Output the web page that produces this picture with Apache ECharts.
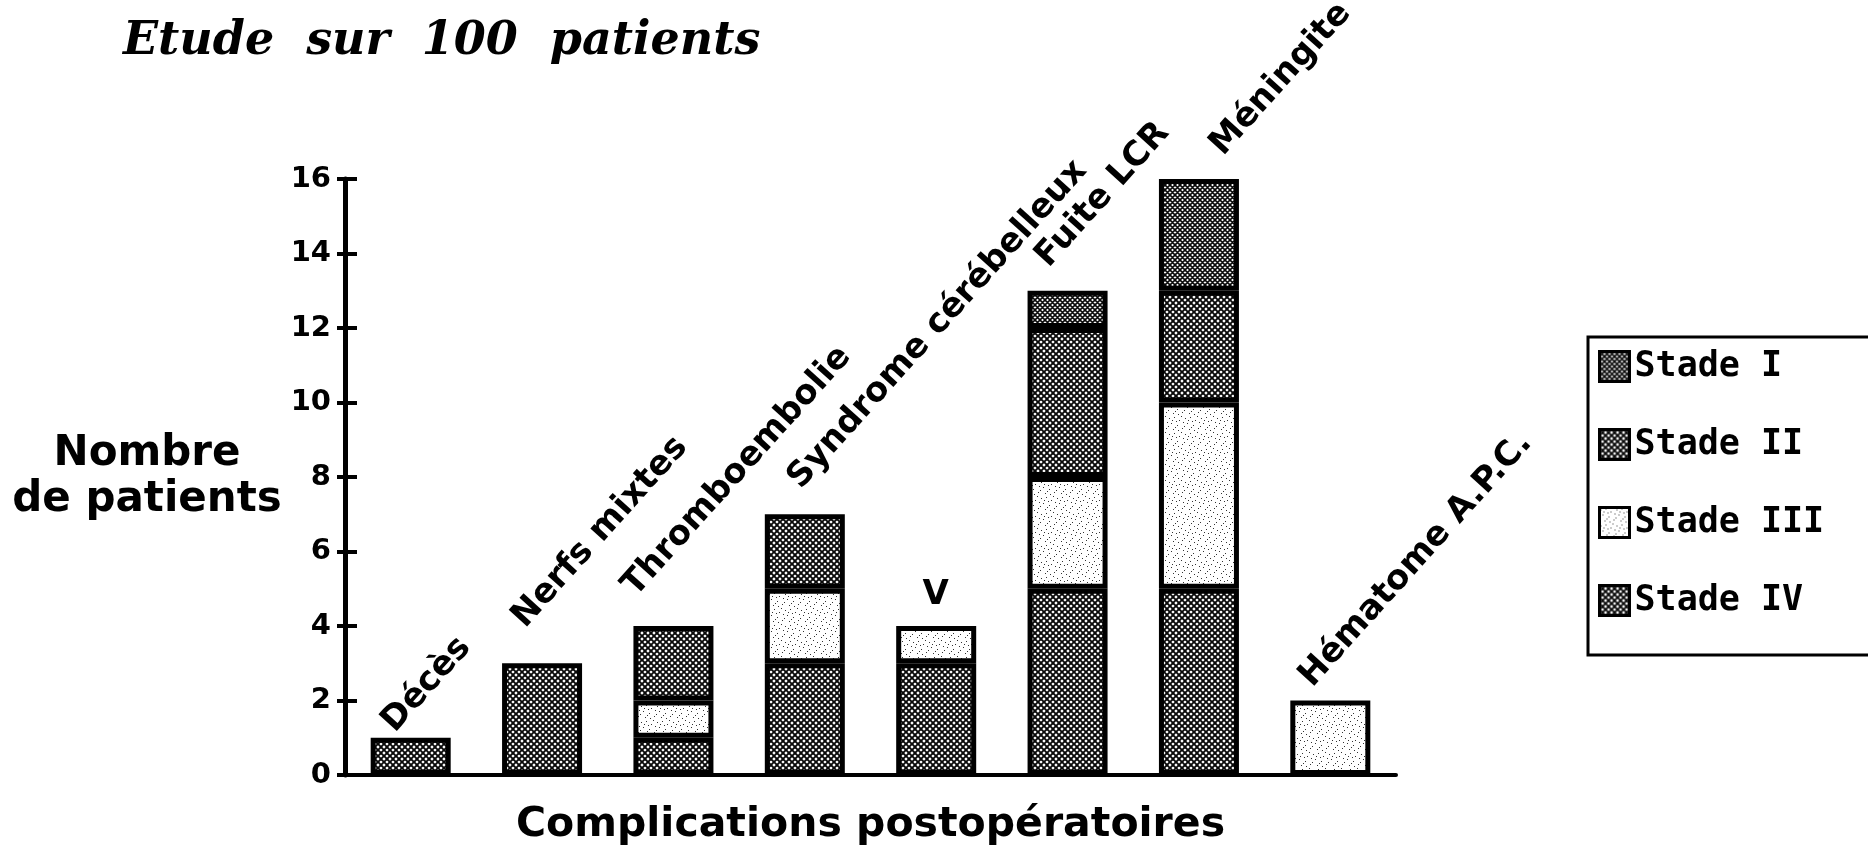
<!DOCTYPE html>
<html>
<head>
<meta charset="utf-8">
<script src="https://cdn.jsdelivr.net/npm/echarts@6/dist/echarts.min.js"></script>
<style>
  html, body { margin: 0; padding: 0; background: #fff; }
  #chart { width: 1868px; height: 853px; }
</style>
</head>
<body>
<div id="chart"></div>
<script>
// Complications after surgery, split by stage (stacked bottom to top: IV, III, II, I)
const categories = ['Décès', 'Nerfs mixtes', 'Thromboembolie', 'Syndrome cérébelleux',
                    'V', 'Fuite LCR', 'Méningite', 'Hématome A.P.C.'];
const stadeIV  = [1, 3, 1, 3, 3, 5, 5, 0];
const stadeIII = [0, 0, 1, 2, 1, 3, 5, 2];
const stadeII  = [0, 0, 2, 2, 0, 4, 3, 0];
const stadeI   = [0, 0, 0, 0, 0, 1, 3, 0];
const stageNames = ['Stade I', 'Stade II', 'Stade III', 'Stade IV'];
const yMin = 0, yMax = 16, yStep = 2;

const totals = categories.map((_, i) => stadeI[i] + stadeII[i] + stadeIII[i] + stadeIV[i]);

// Diagonal cross-hatch tile: dark mesh with small white diamonds
function crossHatch(period, lineWidth) {
  const c = document.createElement('canvas');
  c.width = c.height = period;
  const g = c.getContext('2d');
  g.fillStyle = '#fff';
  g.fillRect(0, 0, period, period);
  g.strokeStyle = '#0a0a0a';
  g.lineWidth = lineWidth;
  g.beginPath();
  for (let k = -1; k <= 1; k++) {
    g.moveTo(k * period, 0); g.lineTo(k * period + period, period);
    g.moveTo(k * period + period, 0); g.lineTo(k * period, period);
  }
  g.stroke();
  return c;
}

// Sparse stipple tile (fixed dot layout)
function stipple() {
  const size = 16;
  const dots = [[1, 2], [6, 1], [11, 4], [3, 7], [9, 9], [14, 12], [5, 13], [0, 10],
                [8, 5], [13, 0], [4, 4], [10, 14], [15, 6], [7, 11]];
  const c = document.createElement('canvas');
  c.width = c.height = size;
  const g = c.getContext('2d');
  g.fillStyle = '#fff';
  g.fillRect(0, 0, size, size);
  g.fillStyle = '#333';
  dots.forEach(([x, y]) => g.fillRect(x, y, 1, 1));
  return c;
}

const hatchFill = { image: crossHatch(6, 1.9), repeat: 'repeat' };
const hatchDense = { image: crossHatch(5, 1.6), repeat: 'repeat' };
const dotFill = { image: stipple(), repeat: 'repeat' };

const fills = {
  'Stade I': hatchDense,
  'Stade II': hatchFill,
  'Stade III': dotFill,
  'Stade IV': hatchFill
};
const values = {
  'Stade I': stadeI,
  'Stade II': stadeII,
  'Stade III': stadeIII,
  'Stade IV': stadeIV
};

const sansFont = "'DejaVu Sans', 'Noto Sans', sans-serif";

const stackOrder = ['Stade IV', 'Stade III', 'Stade II', 'Stade I'];
const barSeries = stackOrder.map(name => ({
  name,
  type: 'bar',
  stack: 'total',
  barWidth: 80,
  data: values[name].map(v => (v ? v : null)),
  itemStyle: { color: fills[name], borderColor: '#000', borderWidth: 5 },
  emphasis: { disabled: true }
}));

// Name labels sit above each stack, slanted; pixel anchor of each label
// relative to the top of its stack (left end, mid-height of the text).
const slantedLabelAnchor = {
  'Décès': [-22, -10],
  'Nerfs mixtes': [-23, -40],
  'Thromboembolie': [-44, -34],
  'Syndrome cérébelleux': [-10, -30],
  'Fuite LCR': [-25, -28],
  'Méningite': [18, -28],
  'Hématome A.P.C.': [-24, -18]
};

const labelSeries = {
  type: 'scatter',
  symbolSize: 1,
  itemStyle: { color: 'rgba(0,0,0,0)', opacity: 1 },
  silent: true,
  z: 5,
  data: totals.map((t, i) => {
    const anchor = slantedLabelAnchor[categories[i]];
    return {
      name: categories[i],
      value: t,
      label: anchor
        ? { rotate: 48, align: 'left', verticalAlign: 'middle', position: anchor }
        : { rotate: 0, align: 'center', verticalAlign: 'bottom', position: [0, -13] }
    };
  }),
  label: {
    show: true,
    formatter: '{b}',
    color: '#000',
    fontFamily: sansFont,
    fontWeight: 'bold',
    fontSize: 34
  }
};

const chart = echarts.init(document.getElementById('chart'), null, { renderer: 'canvas' });
chart.setOption({
  backgroundColor: '#fff',
  animation: false,
  title: {
    text: 'Etude  sur  100  patients',
    left: 118,
    top: 14,
    textStyle: {
      fontFamily: "'DejaVu Serif', serif",
      fontStyle: 'italic',
      fontWeight: 'bold',
      fontSize: 46,
      color: '#000'
    }
  },
  legend: {
    data: stageNames,
    orient: 'vertical',
    left: 1588,
    top: 337,
    padding: [12, 90, 37, 10],
    itemWidth: 30,
    itemHeight: 30,
    itemGap: 43,
    borderColor: '#000',
    borderWidth: 3,
    icon: 'rect',
    selectedMode: false,
    itemStyle: { borderColor: '#000', borderWidth: 3 },
    textStyle: {
      fontFamily: "'DejaVu Sans Mono', monospace",
      fontWeight: 'bold',
      fontSize: 35,
      color: '#000',
      lineHeight: 30
    }
  },
  grid: { left: 345, right: 472, top: 179, bottom: 78, containLabel: false },
  xAxis: {
    type: 'category',
    data: categories,
    boundaryGap: true,
    axisLine: { lineStyle: { color: '#000', width: 4 } },
    axisTick: { show: false },
    axisLabel: { show: false },
    splitLine: { show: false },
    name: 'Complications postopératoires',
    nameLocation: 'middle',
    nameGap: 50,
    nameTextStyle: {
      fontFamily: sansFont,
      fontWeight: 'bold',
      fontSize: 41,
      color: '#000',
      verticalAlign: 'middle'
    }
  },
  yAxis: [
    {
      type: 'value',
      min: yMin, max: yMax, interval: yStep,
      axisLine: { show: true, lineStyle: { color: '#000', width: 5 } },
      axisTick: { show: true, length: 8, lineStyle: { color: '#000', width: 4 } },
      axisLabel: {
        margin: 14,
        fontFamily: sansFont,
        fontWeight: 'bold',
        fontSize: 29,
        color: '#000'
      },
      splitLine: { show: false },
      name: 'Nombre\nde patients',
      nameLocation: 'middle',
      nameRotate: 0,
      nameGap: 198,
      nameTextStyle: {
        fontFamily: sansFont,
        fontWeight: 'bold',
        fontSize: 42,
        lineHeight: 46,
        color: '#000',
        align: 'center',
        verticalAlign: 'middle'
      }
    },
    {
      type: 'value',
      min: yMin, max: yMax, interval: yStep,
      position: 'left',
      axisLine: { show: false },
      axisTick: { show: true, inside: true, length: 12, lineStyle: { color: '#000', width: 4 } },
      axisLabel: { show: false },
      splitLine: { show: false }
    }
  ],
  series: [...barSeries, labelSeries]
});
</script>
</body>
</html>
